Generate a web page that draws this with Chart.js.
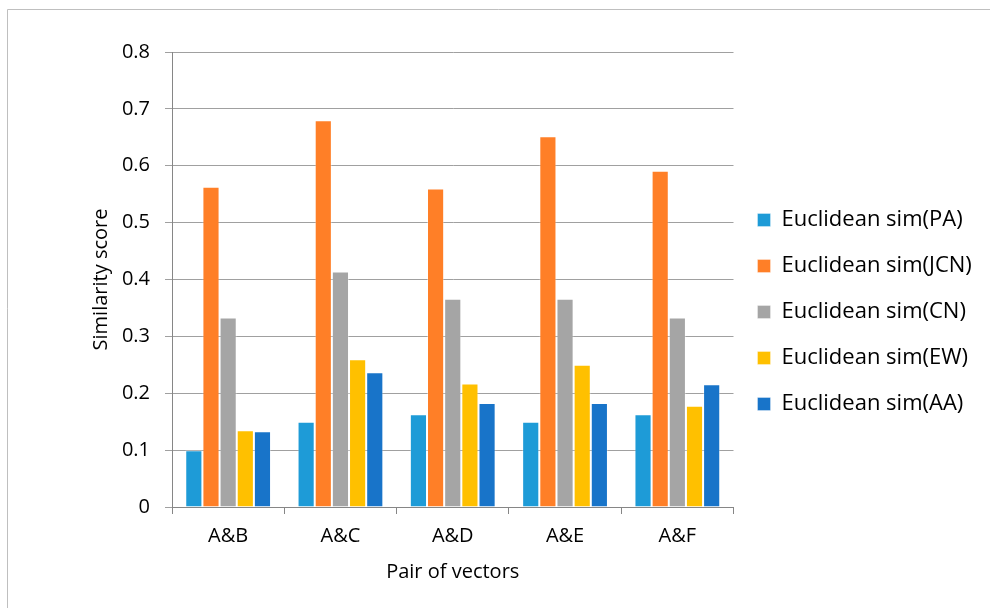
<!DOCTYPE html>
<html>
<head>
<meta charset="utf-8">
<script src="https://cdn.jsdelivr.net/npm/chart.js@4/dist/chart.umd.min.js"></script>
<style>
  html, body { margin: 0; padding: 0; background: #ffffff; }
  #wrap { width: 990px; height: 608px; position: relative; }
</style>
</head>
<body>
<div id="wrap"><canvas id="chart" width="990" height="608"></canvas></div>
<script>
// Pairs of vectors compared
const categories = ['A&B', 'A&C', 'A&D', 'A&E', 'A&F'];

// Euclidean similarity scores for each link-prediction measure
const seriesNames = [
  'Euclidean sim(PA)',
  'Euclidean sim(JCN)',
  'Euclidean sim(CN)',
  'Euclidean sim(EW)',
  'Euclidean sim(AA)'
];
const simPA  = [0.100, 0.150, 0.163, 0.150, 0.163];
const simJCN = [0.563, 0.680, 0.560, 0.652, 0.591];
const simCN  = [0.333, 0.414, 0.366, 0.366, 0.333];
const simEW  = [0.135, 0.260, 0.217, 0.250, 0.178];
const simAA  = [0.133, 0.237, 0.183, 0.183, 0.216];

// Y axis range and step
const yMin = 0;
const yMax = 0.8;
const yStep = 0.1;

const seriesColors = ['#1e9bd7', '#ff7f27', '#a5a5a5', '#ffc000', '#1874c9'];
const seriesValues = [simPA, simJCN, simCN, simEW, simAA];

const FONT = '"Open Sans", Lato, sans-serif';
const FONT_SIZE = 20;
const LEGEND_FONT_SIZE = 22;
const TEXT = '#000000';

// Thin frame along the top and left of the figure
const framePlugin = {
  id: 'frame',
  beforeDraw(chart) {
    const ctx = chart.ctx;
    ctx.save();
    ctx.fillStyle = '#ffffff';
    ctx.fillRect(0, 0, chart.width, chart.height);
    ctx.strokeStyle = '#bfbfbf';
    ctx.lineWidth = 1;
    ctx.beginPath();
    ctx.moveTo(7.5, chart.height);
    ctx.lineTo(7.5, 9.5);
    ctx.lineTo(chart.width, 9.5);
    ctx.stroke();
    ctx.restore();
  }
};

const datasets = seriesNames.map((name, i) => ({
  label: name,
  data: seriesValues[i],
  backgroundColor: seriesColors[i],
  borderColor: 'rgba(255,255,255,0.35)',
  borderWidth: 1,
  categoryPercentage: 0.764,
  barPercentage: 1.0
}));

new Chart(document.getElementById('chart'), {
  type: 'bar',
  data: { labels: categories, datasets },
  plugins: [framePlugin],
  options: {
    responsive: false,
    animation: false,
    devicePixelRatio: 1,
    layout: { padding: { left: 0, top: 52, bottom: 36, right: 12 } },
    plugins: {
      legend: {
        position: 'right',
        align: 'center',
        labels: {
          color: TEXT,
          font: { family: FONT, size: LEGEND_FONT_SIZE },
          boxWidth: 13,
          boxHeight: 13,
          padding: 24
        }
      },
      tooltip: { enabled: false }
    },
    scales: {
      x: {
        grid: {
          offset: true,
          drawOnChartArea: false,
          drawTicks: true,
          tickLength: 7,
          color: '#868686'
        },
        border: { color: '#868686', width: 1 },
        ticks: { color: TEXT, font: { family: FONT, size: FONT_SIZE }, padding: 10 },
        title: {
          display: true,
          text: 'Pair of vectors',
          color: TEXT,
          font: { family: FONT, size: FONT_SIZE },
          padding: { top: 0, bottom: -12 }
        },
        afterFit(scale) { scale.height = 65; }
      },
      y: {
        min: yMin,
        max: yMax,
        grid: { color: '#a0a0a0', tickLength: 7, lineWidth: 1 },
        border: { color: '#868686', width: 1 },
        ticks: {
          stepSize: yStep,
          color: TEXT,
          font: { family: FONT, size: FONT_SIZE },
          padding: 15,
          callback: v => (Math.round(v * 10) / 10).toString()
        },
        title: {
          display: true,
          text: 'Similarity score',
          color: TEXT,
          font: { family: FONT, size: FONT_SIZE },
          padding: { top: 89, bottom: 0 }
        },
        afterFit(scale) { scale.width = 172; }
      }
    }
  }
});
</script>
</body>
</html>
